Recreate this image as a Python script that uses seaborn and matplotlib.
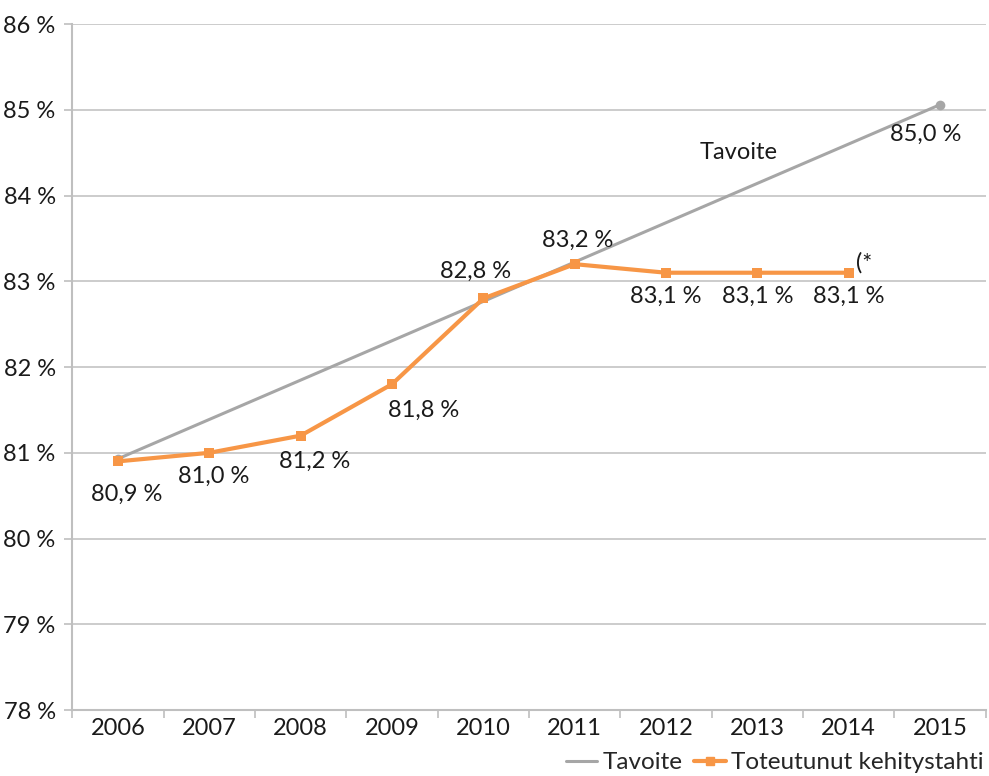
import matplotlib
matplotlib.use("Agg")
import matplotlib.pyplot as plt
import seaborn as sns
import pandas as pd
from matplotlib.ticker import FixedLocator
from matplotlib.lines import Line2D

sns.set_theme(style="white")
plt.rcParams['font.family'] = ['Lato', 'DejaVu Sans']

years = ["2006", "2007", "2008", "2009", "2010", "2011", "2012", "2013", "2014", "2015"]
target_years = ["2006", "2015"]
target_values = [80.93, 85.06]
actual_years = ["2006", "2007", "2008", "2009", "2010", "2011", "2012", "2013", "2014"]
actual_values = [80.9, 81.0, 81.2, 81.8, 82.8, 83.2, 83.1, 83.1, 83.1]
actual_labels = ["80,9 %", "81,0 %", "81,2 %", "81,8 %", "82,8 %", "83,2 %", "83,1 %", "83,1 %", "83,1 %"]
target_end_label = "85,0 %"
y_ticks = [78, 79, 80, 81, 82, 83, 84, 85, 86]

gray = "#A6A6A6"
orange = "#F79646"

pos = {y: i for i, y in enumerate(years)}
df_t = pd.DataFrame({"x": [pos[y] for y in target_years], "v": target_values})
df_a = pd.DataFrame({"x": [pos[y] for y in actual_years], "v": actual_values})

fig = plt.figure(figsize=(9.89, 7.76), dpi=100)
ax = fig.add_axes([0.0731, 0.085, 0.9236, 0.884])

sns.lineplot(data=df_t, x="x", y="v", ax=ax, color=gray, linewidth=2.2,
             marker="o", markersize=7, markeredgewidth=0, zorder=3)
sns.lineplot(data=df_a, x="x", y="v", ax=ax, color=orange, linewidth=3,
             marker="s", markersize=7, markeredgewidth=0, zorder=4)

ax.set_xlim(-0.5, len(years) - 0.5)
ax.set_ylim(78, 86)
ax.set_yticks(y_ticks)
ax.set_yticklabels([f"{t} %" for t in y_ticks])
ax.set_xticks(range(len(years)))
ax.set_xticklabels(years)
ax.xaxis.set_minor_locator(FixedLocator([i - 0.5 for i in range(len(years) + 1)]))
ax.tick_params(axis="x", which="major", length=0, pad=6, labelsize=17, colors="#1a1a1a")
ax.tick_params(axis="x", which="minor", length=6, width=1.2, color="#BFBFBF", bottom=True)
ax.tick_params(axis="y", which="major", length=6, width=1.2, color="#BFBFBF", left=True,
               labelsize=17, labelcolor="#1a1a1a", pad=6)
ax.set_xlabel("")
ax.set_ylabel("")

ax.grid(axis="y", color="#C8C8C8", linewidth=1.3)
ax.grid(axis="x", visible=False)
for s in ["top", "right"]:
    ax.spines[s].set_visible(False)
for s in ["left", "bottom"]:
    ax.spines[s].set_color("#BFBFBF")
    ax.spines[s].set_linewidth(1.5)

# data labels
offsets = [(0.1, -0.38), (0.05, -0.27), (0.15, -0.3), (0.35, -0.3), (-0.08, 0.32),
           (0.03, 0.28), (0.0, -0.28), (0.0, -0.28), (0.0, -0.28)]
for (x, v), lab, (dx, dy) in zip(df_a.itertuples(index=False), actual_labels, offsets):
    ax.text(x + dx, v + dy, lab, ha="center", va="center", fontsize=17, color="#1a1a1a")
ax.text(df_t["x"].iloc[-1] - 0.16, df_t["v"].iloc[-1] - 0.35, target_end_label,
        ha="center", va="center", fontsize=17, color="#1a1a1a")
ax.text(df_a["x"].iloc[-1] + 0.08, df_a["v"].iloc[-1] + 0.12, "(*",
        ha="left", va="center", fontsize=17, color="#1a1a1a")
ax.text(6.8, 84.5, "Tavoite", ha="center", va="center", fontsize=17, color="#1a1a1a")

handles = [Line2D([], [], color=gray, linewidth=2.2),
           Line2D([], [], color=orange, linewidth=3, marker="s", markersize=6)]
fig.legend(handles, ["Tavoite", "Toteutunut kehitystahti"], loc="center left",
           bbox_to_anchor=(0.572, 0.017), ncol=2, frameon=False, fontsize=17.5,
           handlelength=1.3, handletextpad=0.2, columnspacing=0.5,
           borderpad=0, borderaxespad=0)

fig.savefig("out.png", dpi=100, facecolor="white")
